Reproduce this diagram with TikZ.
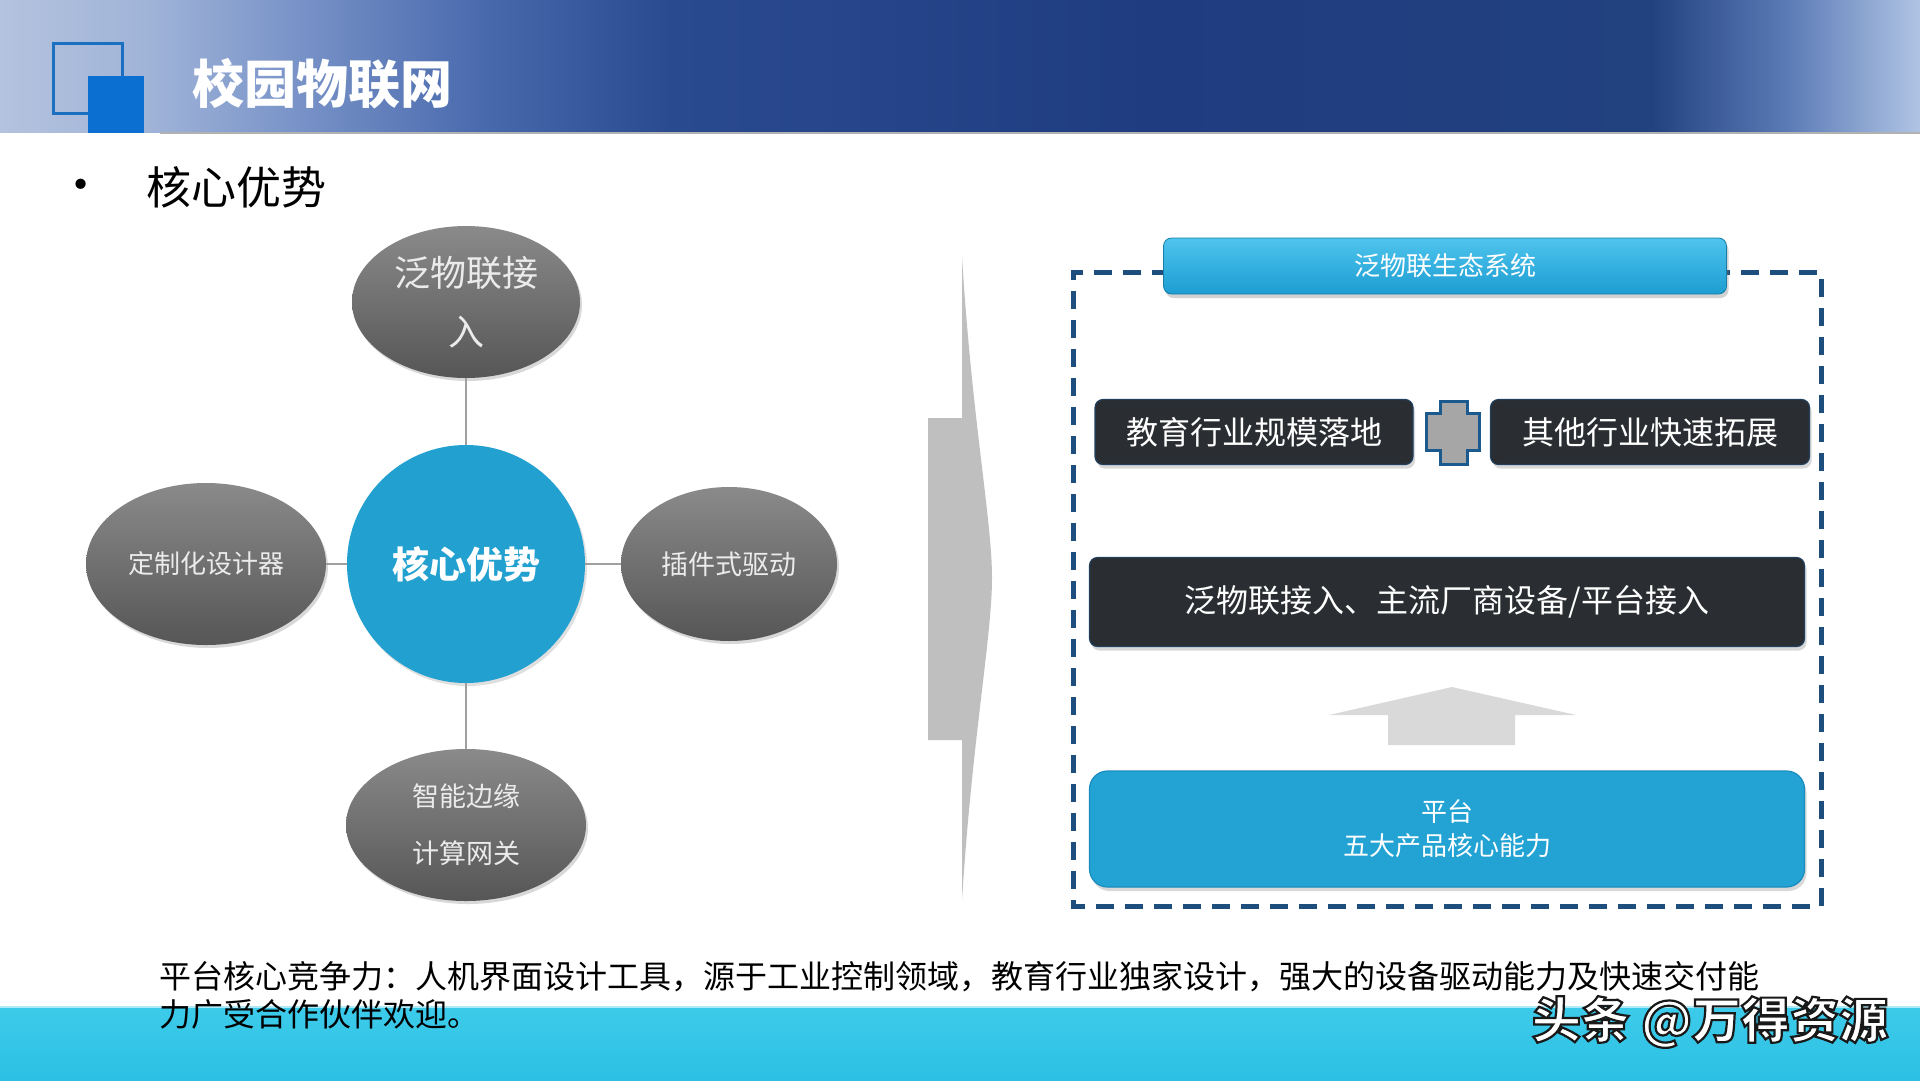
\documentclass[tikz,border=0pt]{standalone}
\usepackage{fontspec}
\newfontfamily\cjk{Noto Sans CJK SC}
\usetikzlibrary{shapes.geometric,shadows}
\definecolor{hA}{HTML}{B4C3DE}
\definecolor{hB}{HTML}{9FB3D8}
\definecolor{hC}{HTML}{7B95C9}
\definecolor{hD}{HTML}{4A6AAE}
\definecolor{hE}{HTML}{2A4A90}
\definecolor{hF}{HTML}{1F3C80}
\definecolor{hG}{HTML}{22417F}
\definecolor{hH}{HTML}{5A7AB6}
\definecolor{hI}{HTML}{B0C4E4}
\definecolor{sqline}{HTML}{1A6FC0}
\definecolor{sqfill}{HTML}{0A6FD0}
\definecolor{ellTop}{HTML}{8A8A8A}
\definecolor{ellBot}{HTML}{565656}
\definecolor{coreBlue}{HTML}{22A0D0}
\definecolor{barTop}{HTML}{4FC4EE}
\definecolor{barBot}{HTML}{1C9DD1}
\definecolor{darkBox}{HTML}{2A2D31}
\definecolor{darkEdge}{HTML}{20405E}
\definecolor{frameBlue}{HTML}{1D4E7E}
\definecolor{plusGray}{HTML}{A6A6A6}
\definecolor{plusEdge}{HTML}{1B5A8F}
\definecolor{platBlue}{HTML}{22A3D4}
\definecolor{platEdge}{HTML}{1A8CBF}
\definecolor{arrowGray}{HTML}{BFBFBF}
\definecolor{upGray}{HTML}{D9D9D9}
\definecolor{ftA}{HTML}{3DCBEA}
\definecolor{ftB}{HTML}{2CC0E4}
\definecolor{connGray}{HTML}{A0A0A0}
\pgfdeclarehorizontalshading{hdr}{100bp}{color(0bp)=(hA); color(25bp)=(hA); color(29bp)=(hB); color(32.5bp)=(hC); color(37.5bp)=(hD); color(42.5bp)=(hE); color(55bp)=(hF); color(68bp)=(hG); color(71.5bp)=(hH); color(75bp)=(hI); color(100bp)=(hI)}
\newcommand\outlinedtext[1]{\special{pdf:literal direct 2 Tr 2.2 w 0.1 0.1 0.1 RG}#1\special{pdf:literal direct 0 Tr}}
\begin{document}
\begin{tikzpicture}[x=1pt,y=-1pt,
  gell/.style={ellipse, inner sep=0pt, top color=ellTop, bottom color=ellBot, draw=none,
    text=white!92!black, align=center,
    drop shadow={opacity=0.3, shadow xshift=2pt, shadow yshift=-3pt}},
  core/.style={circle, inner sep=0pt, fill=coreBlue, text=white, align=center,
    drop shadow={opacity=0.25, shadow xshift=2pt, shadow yshift=-3pt}},
  conn/.style={draw=connGray, line width=1.5pt},
  ecobar/.style={rectangle, rounded corners=8pt, top color=barTop, bottom color=barBot,
    draw=barBot!80!black, line width=0.8pt, text=white,
    drop shadow={opacity=0.35, shadow xshift=2pt, shadow yshift=-4pt}},
  darkbox/.style={rectangle, rounded corners=8pt, fill=darkBox, draw=darkEdge, line width=1.2pt,
    text=white, drop shadow={opacity=0.3, shadow xshift=2pt, shadow yshift=-4pt}},
  platbox/.style={rectangle, rounded corners=18pt, fill=platBlue, draw=platEdge, line width=1.2pt,
    text=white, align=center, drop shadow={opacity=0.3, shadow xshift=2pt, shadow yshift=-4pt}},
  dashframe/.style={draw=frameBlue, line width=5pt, dash pattern=on 18pt off 11pt},
]
\useasboundingbox (0,0) rectangle (1920,1080);
\fill[white] (0,0) rectangle (1920,1080);
% header
\shade[shading=hdr] (0,0) rectangle (1920,132);
\draw[gray!60, line width=2pt] (160,133) -- (1920,133);
\draw[sqline, line width=3pt] (53,43) rectangle (122,113);
\fill[sqfill] (88,76) rectangle (144,133);
\node[anchor=west, inner sep=0pt, text=white, font=\cjk\bfseries\fontsize{52}{60}\selectfont] (title) at (192,84) {校园物联网};
% subtitle
\node[inner sep=0pt, font=\fontsize{46}{50}\selectfont] (bul) at (81,188) {\textbullet};
\node[anchor=west, inner sep=0pt, font=\cjk\fontsize{45}{50}\selectfont] (sub) at (146,187) {核心优势};
% left diagram
\node[core, minimum size=238pt, font=\cjk\bfseries\fontsize{37}{44}\selectfont] (core) at (466,564) {核心优势};
\node[gell, minimum width=228pt, minimum height=152pt, font=\cjk\fontsize{36}{59}\selectfont] (top) at (466,302) {泛物联接\\入};
\node[gell, minimum width=240pt, minimum height=162pt, font=\cjk\fontsize{26}{30}\selectfont] (left) at (206,564) {定制化设计器};
\node[gell, minimum width=216pt, minimum height=154pt, font=\cjk\fontsize{27}{30}\selectfont] (right) at (729,564) {插件式驱动};
\node[gell, minimum width=240pt, minimum height=152pt, font=\cjk\fontsize{27}{57}\selectfont] (bottom) at (466,825) {智能边缘\\计算网关};
\draw[conn] (core) -- (top);
\draw[conn] (core) -- (left);
\draw[conn] (core) -- (right);
\draw[conn] (core) -- (bottom);
% big right arrow
\fill[arrowGray] (928,418) -- (962,418) -- (962,257) .. controls (972,420) and (992,520) .. (992,578)
  .. controls (992,636) and (972,740) .. (962,900) -- (962,740) -- (928,740) -- cycle;
% right panel
\draw[dashframe] (1170,272) -- (1073,272) -- (1073,906) -- (1821,906) -- (1821,272) -- (1720,272);
\node[ecobar, minimum width=563pt, minimum height=56pt, font=\cjk\fontsize{26}{30}\selectfont] (eco) at (1445,266) {泛物联生态系统};
\node[darkbox, minimum width=318pt, minimum height=65pt, font=\cjk\fontsize{32}{36}\selectfont] (edu) at (1254,432) {教育行业规模落地};
\node[darkbox, minimum width=319pt, minimum height=65pt, font=\cjk\fontsize{32}{36}\selectfont] (other) at (1650,432) {其他行业快速拓展};
\draw[plusEdge, fill=plusGray, line width=3pt, line join=miter]
  (1440,401) -- (1467,401) -- (1467,413) -- (1479,413) -- (1479,450) -- (1467,450) -- (1467,464)
  -- (1440,464) -- (1440,450) -- (1426,450) -- (1426,413) -- (1440,413) -- cycle;
\node[darkbox, minimum width=715pt, minimum height=89pt, font=\cjk\fontsize{32}{36}\selectfont] (access) at (1447,602) {泛物联接入、主流厂商设备/平台接入};
\fill[upGray] (1388,745) -- (1388,715) -- (1329,715) -- (1452,687) -- (1576,715) -- (1515,715) -- (1515,745) -- cycle;
\node[platbox, minimum width=715pt, minimum height=116pt, font=\cjk\fontsize{26}{34}\selectfont] (plat) at (1447,829) {平台\\五大产品核心能力};
% footer
\shade[top color=ftA, bottom color=ftB] (0,1007) rectangle (1920,1080);
\draw[white!60!ftA, line width=2pt] (0,1007) -- (1920,1007);
\node[anchor=west, inner sep=0pt, align=left, font=\cjk\fontsize{32}{38}\selectfont] (foot) at (159,995)
  {平台核心竞争力：人机界面设计工具，源于工业控制领域，教育行业独家设计，强大的设备驱动能力及快速交付能\\力广受合作伙伴欢迎。};
\node[inner sep=0pt, text=white, font=\cjk\bfseries\fontsize{49}{54}\selectfont] (wm) at (1710,1022) {\outlinedtext{头条 @万得资源}};
\end{tikzpicture}
\end{document}
